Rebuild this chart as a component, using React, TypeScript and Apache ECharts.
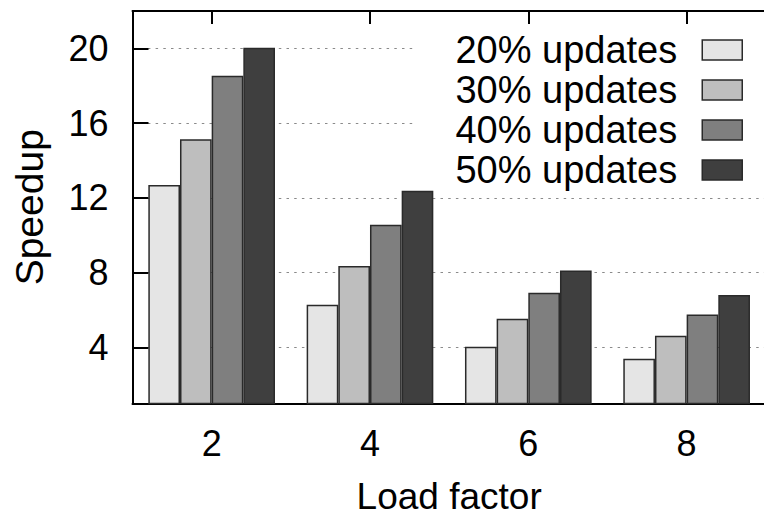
import React, { useEffect, useRef } from "react";
import * as echarts from "echarts";

const categories = ["2", "4", "6", "8"];
const seriesNames = ["20% updates", "30% updates", "40% updates", "50% updates"];
const updates20 = [12.69, 6.29, 4.03, 3.4];
const updates30 = [15.14, 8.36, 5.54, 4.63];
const updates40 = [18.53, 10.56, 6.92, 5.76];
const updates50 = [20.04, 12.38, 8.12, 6.81];
const yTicks = [4, 8, 12, 16, 20];
const barColors = ["#e5e5e5", "#bebebe", "#7f7f7f", "#3f3f3f"];

const FONT = "Liberation Sans";

export default function App() {
  const ref = useRef<HTMLDivElement>(null);
  useEffect(() => {
    if (!ref.current) return;
    const chart = echarts.init(ref.current, null, { renderer: "svg" });
    const values = [updates20, updates30, updates40, updates50];
    chart.setOption({
      animation: false,
      backgroundColor: "#ffffff",
      grid: {
        left: 132.5,
        top: 11,
        width: 633.3,
        height: 392.5,
        containLabel: false,
        outerBoundsMode: "none",
      },
      legend: {
        data: seriesNames,
        orient: "vertical",
        align: "right",
        right: 21,
        top: 30,
        padding: 0,
        itemGap: 0,
        itemWidth: 40,
        itemHeight: 20,
        icon: "rect",
        itemStyle: { borderColor: "#2a2a2a", borderWidth: 1.5 },
        textStyle: {
          fontFamily: FONT,
          fontSize: 38,
          lineHeight: 40,
          color: "#000",
          padding: [0, 20, 0, 0],
        },
        selectedMode: false,
      },
      graphic: [
        {
          type: "rect",
          z: 1,
          silent: true,
          shape: { x: 417, y: 27, width: 360, height: 162 },
          style: { fill: "#ffffff" },
        },
      ],
      xAxis: [
        {
          type: "category",
          data: categories,
          position: "bottom",
          boundaryGap: true,
          name: "Load factor",
          nameLocation: "middle",
          nameGap: 78,
          nameTextStyle: { fontFamily: FONT, fontSize: 37, lineHeight: 30, color: "#000" },
          axisLine: { show: true, lineStyle: { color: "#000", width: 2 } },
          axisTick: { show: false },
          axisLabel: { fontFamily: FONT, fontSize: 36, color: "#000", margin: 22 },
          splitLine: { show: false },
        },
        {
          type: "category",
          data: categories,
          position: "top",
          boundaryGap: true,
          axisLine: { show: true, lineStyle: { color: "#000", width: 2 } },
          axisTick: {
            show: true,
            inside: true,
            alignWithLabel: true,
            length: 13,
            lineStyle: { color: "#000", width: 2 },
          },
          axisLabel: { show: false },
          splitLine: { show: false },
        },
      ],
      yAxis: {
        type: "value",
        min: 1,
        max: 22,
        name: "Speedup",
        nameLocation: "middle",
        nameGap: 84,
        nameTextStyle: { fontFamily: FONT, fontSize: 39, color: "#000" },
        axisLine: { show: true, lineStyle: { color: "#000", width: 2 } },
        axisTick: {
          show: true,
          inside: true,
          length: 16,
          customValues: yTicks,
          lineStyle: { color: "#000", width: 2 },
        },
        axisLabel: {
          fontFamily: FONT,
          fontSize: 36,
          color: "#000",
          margin: 24,
          customValues: yTicks,
        },
        splitLine: {
          show: true,
          lineStyle: { color: "#8a8a8a", width: 1, type: [2.5, 5.2] },
        },
      },
      series: seriesNames.map((name, i) => ({
        name,
        type: "bar",
        xAxisIndex: 0,
        data: values[i],
        barWidth: 31.67,
        barGap: "0%",
        itemStyle: { color: barColors[i], borderColor: "#2a2a2a", borderWidth: 1.5 },
        z: 2,
      })),
    });
    return () => chart.dispose();
  }, []);
  return (
    <div
      ref={ref}
      style={{ position: "absolute", left: 0, top: 0, width: 764, height: 519 }}
    />
  );
}
